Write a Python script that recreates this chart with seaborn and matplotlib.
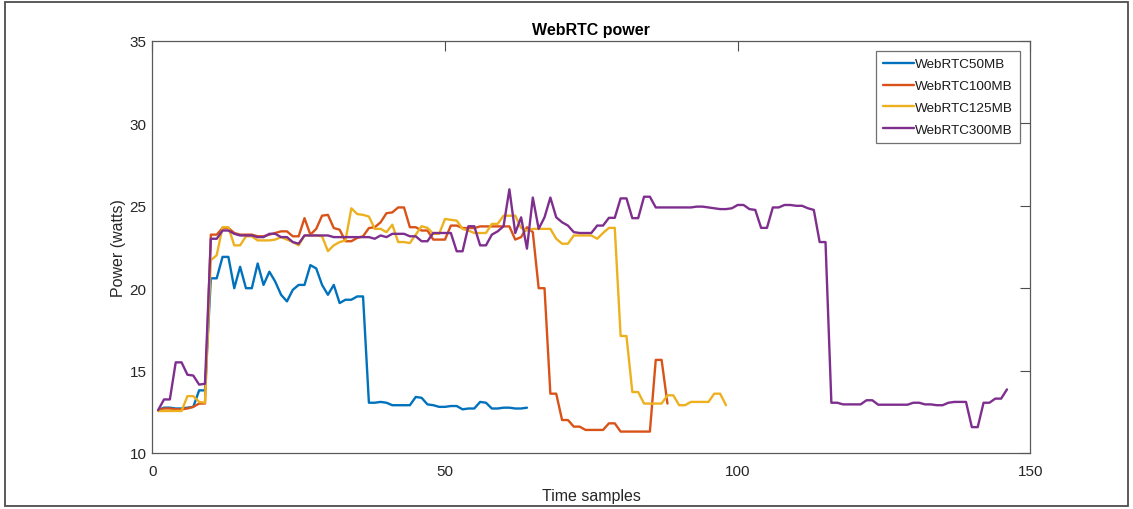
import numpy as np
import pandas as pd
import matplotlib
matplotlib.use("Agg")
import matplotlib.pyplot as plt
from matplotlib.patches import Rectangle
import seaborn as sns

series_names = ["WebRTC50MB", "WebRTC100MB", "WebRTC125MB", "WebRTC300MB"]
colors = ["#0072BD", "#D95319", "#EDB120", "#7E2F8E"]

webrtc50 = [12.6, 12.75, 12.75, 12.7, 12.7, 12.75, 12.8, 13.8, 13.8,
            20.6, 20.6, 21.9, 21.9, 20.0, 21.3, 20.0, 20.0, 21.5, 20.2, 21.0, 20.4, 19.6, 19.2,
            19.9, 20.2, 20.2, 21.4, 21.2, 20.2, 19.6, 20.2, 19.1, 19.3, 19.3, 19.5, 19.5,
            13.05, 13.05, 13.1, 13.05, 12.9, 12.9, 12.9, 12.9, 13.4, 13.35, 12.95, 12.9, 12.8,
            12.8, 12.85, 12.85, 12.65, 12.7, 12.7, 13.1, 13.05, 12.7, 12.7, 12.75, 12.75, 12.7,
            12.7, 12.75]

webrtc100 = [12.6, 12.7, 12.7, 12.65, 12.65, 12.7, 12.8, 13.0, 13.0,
             23.25, 23.25, 23.65, 23.65, 23.35, 23.25, 23.25, 23.25, 23.15, 23.15, 23.25, 23.35,
             23.45, 23.45, 23.15, 23.15, 24.25, 23.25, 23.6, 24.4, 24.45, 23.65, 23.55, 22.85,
             22.85, 23.05, 23.15, 23.65, 23.7, 24.0, 24.55, 24.6, 24.9, 24.9, 23.7,
             23.7, 23.5, 23.5, 22.95, 22.95, 22.95, 23.8, 23.8, 23.65, 23.65, 23.65, 23.75, 23.75,
             23.75, 23.75, 23.75, 23.75, 22.95, 23.1, 23.7, 23.4,
             20.0, 20.0, 13.6, 13.6, 12.0, 12.0, 11.6, 11.6, 11.4, 11.4, 11.4, 11.4, 11.8, 11.8,
             11.3, 11.3, 11.3, 11.3, 11.3, 11.3, 15.65, 15.65, 13.0]

webrtc125 = [12.55, 12.55, 12.55, 12.55, 12.55, 13.45, 13.45, 13.1, 13.05,
             21.7, 22.0, 23.7, 23.7, 22.6, 22.6, 23.15, 23.15, 22.9, 22.9, 22.9, 22.95, 23.1,
             22.95, 22.8, 22.6, 23.2, 23.2, 23.2, 23.15, 22.25, 22.6, 22.8, 22.9, 24.85, 24.5,
             24.45, 24.35, 23.6, 23.6, 23.4, 23.85, 22.8, 22.8, 22.74,
             23.25, 23.76, 23.66, 23.3, 23.3, 24.2, 24.15, 24.1, 23.6, 23.5, 23.35, 23.35, 23.35,
             23.9, 23.9, 24.4, 24.4, 24.4, 23.66, 23.5, 23.6, 23.6, 23.6, 23.6, 23.0, 22.7, 22.7,
             23.2, 23.2, 23.2, 23.2, 23.0, 23.35, 23.66, 23.66,
             17.1, 17.1, 13.7, 13.7, 13.0, 13.0, 13.0, 13.0, 13.5, 13.5, 12.9, 12.9, 13.1, 13.1,
             13.1, 13.1, 13.6, 13.6, 12.9]

webrtc300 = [12.6, 13.25, 13.25, 15.5, 15.5, 14.75, 14.7, 14.15, 14.2,
             23.0, 23.0, 23.5, 23.5, 23.3, 23.2, 23.2, 23.2, 23.1, 23.1, 23.3, 23.3, 23.1, 23.1,
             22.8, 22.7, 23.2, 23.2, 23.2, 23.2, 23.2, 23.1, 23.1, 23.1, 23.1, 23.1, 23.1, 23.1,
             23.0, 23.2, 23.1, 23.3, 23.3, 23.3, 23.15,
             23.15, 22.85, 22.85, 23.35, 23.35, 23.35, 23.35, 22.24, 22.24, 23.76, 23.76, 22.6,
             22.6, 23.25, 23.45, 23.76, 26.0, 23.35, 24.3, 22.4, 25.5, 23.6, 24.3, 25.5, 24.3,
             24.0, 23.8, 23.4, 23.35, 23.35, 23.35, 23.8, 23.8, 24.27, 24.27,
             25.45, 25.45, 24.25, 24.25, 25.55, 25.55, 24.9, 24.9, 24.9, 24.9, 24.9, 24.9, 24.9,
             24.95, 24.95, 24.9, 24.85, 24.8, 24.8, 24.85, 25.05, 25.05, 24.8, 24.75, 23.66,
             23.66, 24.9, 24.9, 25.05, 25.05, 25.0, 25.0, 24.85, 24.75, 22.8, 22.8,
             13.05, 13.05, 12.95, 12.95, 12.95, 12.95, 13.2, 13.2, 12.93, 12.93, 12.93, 12.93,
             12.93, 12.93, 13.05, 13.05, 12.95, 12.95, 12.9, 12.9, 13.05, 13.1, 13.1, 13.1,
             11.57, 11.57, 13.05, 13.05, 13.3, 13.3, 13.86]

x_ticks = [0, 50, 100, 150]
y_ticks = [10, 15, 20, 25, 30, 35]

frames = []
for name, vals in zip(series_names, [webrtc50, webrtc100, webrtc125, webrtc300]):
    frames.append(pd.DataFrame({"t": np.arange(1, len(vals) + 1), "p": vals, "series": name}))
df = pd.concat(frames, ignore_index=True)

sns.set_style("white")
plt.rcParams["font.family"] = ["Liberation Sans", "DejaVu Sans"]

fig = plt.figure(figsize=(11.33, 5.10), dpi=100)
ax = fig.add_axes([152.3 / 1133, 56 / 510, (1030.4 - 152.3) / 1133, 412 / 510])

sns.lineplot(data=df, x="t", y="p", hue="series", hue_order=series_names,
             palette=colors, linewidth=1.7, ax=ax, legend=False, sort=False,
             estimator=None)

ax.set_xlim(0, 150)
ax.set_ylim(10, 35)
ax.set_xticks(x_ticks)
ax.set_yticks(y_ticks)
ax.tick_params(direction="in", top=True, right=True, length=7, width=0.8,
               colors="0.3", labelcolor="0.15", labelsize=11)
ax.tick_params(axis="x", pad=8)
ax.tick_params(axis="y", pad=4)
for s in ax.spines.values():
    s.set_color("0.35")
    s.set_linewidth(0.9)

ax.set_xlabel("Time samples", fontsize=11.5, color="0.15", labelpad=7)
ax.set_ylabel("Power (watts)", fontsize=11.5, color="0.15", labelpad=3)
ax.set_title("WebRTC power", fontsize=11.5, fontweight="bold", color="0.0", pad=5)

handles = [plt.Line2D([], [], color=c, linewidth=1.7) for c in colors]
leg = ax.legend(handles, series_names, loc="upper right", bbox_to_anchor=(0.988, 0.975),
                borderaxespad=0, fontsize=9.7, frameon=True, fancybox=False,
                handlelength=2.3, handletextpad=0.1, labelspacing=0.7,
                borderpad=0.5, edgecolor="0.3")
leg.get_frame().set_linewidth(0.9)
for t in leg.get_texts():
    t.set_color("0.1")

fig.patches.append(Rectangle((5 / 1133, 3 / 510), (1128 - 5) / 1133, (507 - 3) / 510,
                             transform=fig.transFigure, fill=False,
                             edgecolor="0.3", linewidth=1.3))

fig.savefig("out.png", dpi=100, facecolor="white")
